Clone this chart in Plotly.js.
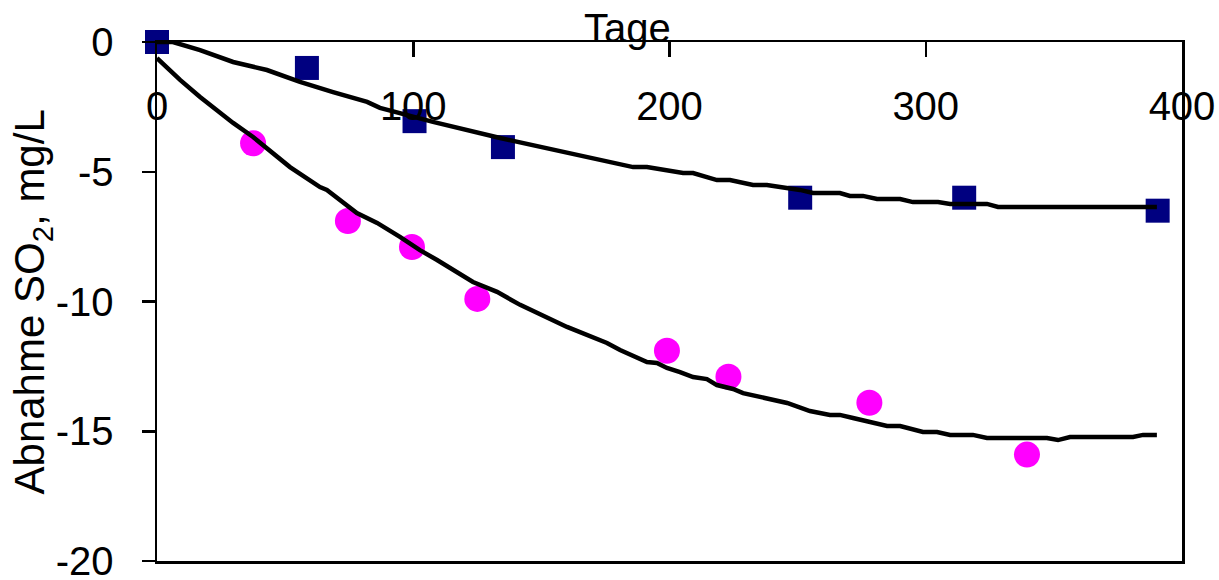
<!DOCTYPE html>
<html>
<head>
<meta charset="utf-8">
<script src="https://cdn.plot.ly/plotly-3.0.1.min.js"></script>
<style>
  html, body { margin: 0; padding: 0; background: #fff; }
  #chart { width: 1219px; height: 580px; }
</style>
</head>
<body>
<div id="chart"></div>
<script>
// Measured SO2 decrease (squares and circles) with fitted model curves
const squareDays = [0, 58.5, 100.5, 135, 251, 315, 390.5];
const squareVals = [0, -1, -3.05, -4.05, -6, -6, -6.5];

const circleDays = [0, 37.5, 74.5, 99.5, 125, 199, 223, 278, 339.5];
const circleVals = [0.1, -3.9, -6.9, -7.9, -9.9, -11.9, -12.9, -13.9, -15.9];

// Model curve for the squares series
const fitUpperDays = [0, 6.2, 16.8, 29.7, 42.9, 55.8, 68.7, 82, 87, 99.9, 107.7, 133.9, 160, 185.8, 191.2,
  205.3, 209.2, 218.5, 223.6, 232.6, 238, 250.9, 256, 266.5, 270.4, 275.5, 281, 290, 295, 304.8,
  309.5, 323.9, 328.2, 390.2];
const fitUpperVals = [0, 0, -0.31, -0.77, -1.08, -1.54, -1.93, -2.31, -2.54, -2.89, -3.08, -3.7, -4.28, -4.82, -4.82,
  -5.05, -5.05, -5.32, -5.32, -5.51, -5.51, -5.7, -5.82, -5.82, -5.93, -5.93, -6.05, -6.05, -6.17, -6.17,
  -6.24, -6.24, -6.36, -6.36];

// Model curve for the circles series
const fitLowerDays = [0, 9, 16.8, 29.7, 37.5, 51.9, 63.6, 66.3, 78, 85.9, 94.8, 102.6, 109.3, 114.3, 119.4,
  123.3, 132.7, 141.7, 160, 175.6, 180.7, 191.2, 195.1, 199, 204.1, 209.2, 214.6, 218.5, 224.8, 228.7,
  245.9, 250.9, 254.8, 262.6, 266.5, 271.6, 284.9, 290, 298.9, 304.4, 309.5, 318.4, 323.9, 347.3,
  351.6, 356.3, 380.9, 384.8, 390.2];
const fitLowerVals = [-0.62, -1.46, -2.12, -3.12, -3.66, -4.82, -5.59, -5.7, -6.59, -6.97, -7.51, -8.02, -8.4, -8.71, -8.98,
  -9.25, -9.63, -10.13, -10.98, -11.6, -11.87, -12.33, -12.37, -12.56, -12.72, -12.91, -12.99, -13.22, -13.37, -13.53,
  -13.91, -14.1, -14.22, -14.37, -14.37, -14.49, -14.8, -14.8, -15.03, -15.03, -15.14, -15.14, -15.26, -15.26,
  -15.34, -15.22, -15.22, -15.14, -15.14];

const xTicks = [0, 100, 200, 300, 400];
const yTicks = [0, -5, -10, -15, -20];

const fontFamily = 'Arial, "Liberation Sans", sans-serif';

const traces = [
  {
    x: squareDays, y: squareVals, type: 'scatter', mode: 'markers',
    marker: { symbol: 'square', size: 24, color: '#000080', line: { width: 0 } },
    cliponaxis: false, hoverinfo: 'x+y'
  },
  {
    x: circleDays, y: circleVals, type: 'scatter', mode: 'markers',
    marker: { symbol: 'circle', size: 26, color: '#FF00FF', line: { width: 0 } },
    cliponaxis: false, hoverinfo: 'x+y'
  },
  {
    x: fitUpperDays, y: fitUpperVals, type: 'scatter', mode: 'lines',
    line: { color: '#000000', width: 4.5 }, cliponaxis: false, hoverinfo: 'x+y'
  },
  {
    x: fitLowerDays, y: fitLowerVals, type: 'scatter', mode: 'lines',
    line: { color: '#000000', width: 4.5 }, cliponaxis: false, hoverinfo: 'x+y'
  }
];

const layout = {
  width: 1219,
  height: 580,
  margin: { l: 157, r: 37, t: 42, b: 19, pad: 0 },
  paper_bgcolor: '#ffffff',
  plot_bgcolor: '#ffffff',
  showlegend: false,
  font: { family: fontFamily, size: 40, color: '#000000' },
  xaxis: {
    range: [0, 400],
    side: 'top',
    tickmode: 'array',
    tickvals: xTicks,
    ticktext: xTicks.map(String),
    ticks: 'inside',
    ticklen: 15,
    tickwidth: 2.5,
    tickcolor: '#000000',
    ticklabelposition: 'inside',
    ticklabeloverflow: 'allow',
    ticklabelstandoff: 40,
    tickfont: { family: fontFamily, size: 40, color: '#000000' },
    showline: true,
    linecolor: '#000000',
    linewidth: 2.5,
    mirror: true,
    showgrid: false,
    zeroline: false,
    fixedrange: true
  },
  yaxis: {
    range: [-20, 0],
    tickmode: 'array',
    tickvals: yTicks,
    ticktext: yTicks.map(String),
    ticks: 'outside',
    ticklen: 13,
    tickwidth: 2.5,
    tickcolor: '#000000',
    ticklabelstandoff: 20,
    ticklabeloverflow: 'allow',
    tickfont: { family: fontFamily, size: 40, color: '#000000' },
    showline: true,
    linecolor: '#000000',
    linewidth: 2.5,
    mirror: true,
    showgrid: false,
    zeroline: false,
    fixedrange: true
  },
  annotations: [
    {
      // top axis title, sitting on the axis line
      text: 'Tage',
      xref: 'paper', yref: 'paper',
      x: 0.4595, y: 1,
      xanchor: 'center', yanchor: 'bottom',
      yshift: -10,
      showarrow: false,
      font: { family: fontFamily, size: 40, color: '#000000' }
    },
    {
      // vertical axis title
      text: 'Abnahme SO<sub>2</sub>, mg/L',
      xref: 'paper', yref: 'paper',
      x: -0.121, y: 0.5,
      xanchor: 'center', yanchor: 'middle',
      textangle: -90,
      showarrow: false,
      font: { family: fontFamily, size: 42, color: '#000000' }
    }
  ]
};

Plotly.newPlot('chart', traces, layout, { displayModeBar: false, staticPlot: true });
</script>
</body>
</html>
